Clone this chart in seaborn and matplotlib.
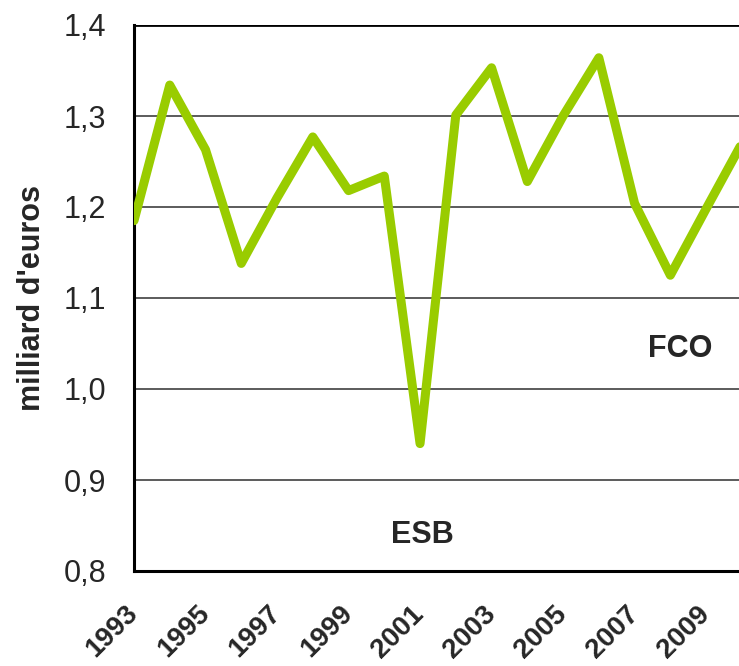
import pandas as pd
import matplotlib
matplotlib.use("Agg")
import matplotlib.pyplot as plt
import seaborn as sns

annees = list(range(1993, 2011))
valeurs = [1.185, 1.334, 1.263, 1.138, 1.21, 1.277, 1.218, 1.234, 0.94,
           1.301, 1.353, 1.228, 1.30, 1.364, 1.204, 1.125, 1.198, 1.27]
y_ticks = [0.8, 0.9, 1.0, 1.1, 1.2, 1.3, 1.4]
y_labels = ["0,8", "0,9", "1,0", "1,1", "1,2", "1,3", "1,4"]
x_labels = [str(a) if (a - 1993) % 2 == 0 else "" for a in annees[:-1]]

datos = pd.DataFrame({"annee": annees, "valeur": valeurs})

sns.set_style("white")
plt.rcParams["font.family"] = ["Liberation Sans", "DejaVu Sans"]

fig = plt.figure(figsize=(7.39, 6.66), dpi=100)
ax = fig.add_axes([134 / 739, 1 - 571 / 666, 1 - 134 / 739, (571 - 25) / 666])

# lignes de grille
for v in y_ticks[1:]:
    ax.axhline(v, color="#404040" if v < 1.4 else "black", lw=1.2 if v < 1.4 else 2, zorder=1)

sns.lineplot(data=datos, x="annee", y="valeur", color="#99cc00", lw=6.5, ax=ax, zorder=3,
             solid_joinstyle="round", solid_capstyle="round")

ax.set_xlim(1993, 2009.92)
ax.set_ylim(0.8, 1.4)
ax.set_yticks(y_ticks)
ax.set_yticklabels(y_labels, fontsize=22)
ax.set_xticks(annees[:-1])
ax.set_xticklabels(x_labels, fontsize=20, fontweight="bold", rotation=45,
                   ha="right", va="center", rotation_mode="anchor")
ax.tick_params(axis="both", direction="out", length=8, width=1.2, color="black")
ax.tick_params(axis="x", pad=20)
ax.tick_params(axis="y", pad=12)
ax.set_xlabel("")
ax.set_ylabel("milliard d'euros", fontsize=22, fontweight="bold", labelpad=12)

for s in ["top", "right"]:
    ax.spines[s].set_visible(False)
for s in ["left", "bottom"]:
    ax.spines[s].set_color("black")
    ax.spines[s].set_linewidth(2.2)

ax.text(2008.28, 1.044, "FCO", fontsize=22, fontweight="bold", ha="center", va="center")
ax.text(2001.07, 0.84, "ESB", fontsize=22, fontweight="bold", ha="center", va="center")

fig.savefig("out.png", dpi=100)
